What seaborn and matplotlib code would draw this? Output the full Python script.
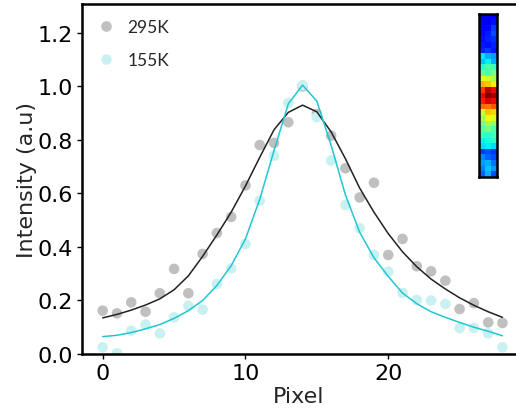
import numpy as np
import pandas as pd
import matplotlib
matplotlib.use("Agg")
import matplotlib.pyplot as plt
import seaborn as sns

pixel = list(range(29))
intensity_295K = [0.162, 0.152, 0.193, 0.158, 0.227, 0.318, 0.227, 0.374, 0.452, 0.512,
                  0.630, 0.781, 0.789, 0.866, 1.000, 0.897, 0.816, 0.694, 0.585, 0.640,
                  0.370, 0.430, 0.328, 0.309, 0.274, 0.168, 0.190, 0.118, 0.116]
intensity_155K = [0.025, 0.003, 0.087, 0.110, 0.077, 0.137, 0.180, 0.166, 0.262, 0.320,
                  0.411, 0.573, 0.741, 0.938, 1.005, 0.885, 0.723, 0.557, 0.470, 0.370,
                  0.308, 0.228, 0.202, 0.200, 0.187, 0.097, 0.097, 0.077, 0.025]
fit_295K = [0.135, 0.148, 0.164, 0.183, 0.206, 0.240, 0.292, 0.365, 0.445, 0.530,
            0.628, 0.735, 0.838, 0.903, 0.930, 0.905, 0.830, 0.730, 0.620, 0.530,
            0.450, 0.382, 0.326, 0.280, 0.243, 0.210, 0.182, 0.158, 0.137]
fit_155K = [0.065, 0.070, 0.080, 0.094, 0.110, 0.133, 0.162, 0.200, 0.256, 0.330,
            0.430, 0.578, 0.760, 0.935, 1.005, 0.945, 0.780, 0.595, 0.455, 0.360,
            0.290, 0.228, 0.188, 0.158, 0.137, 0.118, 0.100, 0.085, 0.068]
series_labels = ["295K", "155K"]
x_ticks = [0, 10, 20]
y_ticks = [0.0, 0.2, 0.4, 0.6, 0.8, 1.0, 1.2]

inset_image = [
    [0.08, 0.12, 0.12], [0.10, 0.10, 0.14], [0.12, 0.13, 0.18], [0.13, 0.15, 0.20],
    [0.14, 0.16, 0.17], [0.15, 0.14, 0.16], [0.16, 0.18, 0.15], [0.35, 0.30, 0.28],
    [0.32, 0.36, 0.30], [0.40, 0.45, 0.42], [0.48, 0.44, 0.50], [0.62, 0.60, 0.55],
    [0.72, 0.70, 0.66], [0.85, 0.95, 0.90], [0.90, 1.00, 0.97], [0.88, 0.92, 0.90],
    [0.80, 0.78, 0.82], [0.60, 0.70, 0.68], [0.55, 0.64, 0.62], [0.50, 0.55, 0.52],
    [0.46, 0.50, 0.44], [0.42, 0.40, 0.44], [0.36, 0.38, 0.40], [0.34, 0.36, 0.34],
    [0.18, 0.20, 0.18], [0.26, 0.22, 0.20], [0.28, 0.30, 0.24], [0.25, 0.32, 0.28],
    [0.22, 0.30, 0.20],
]

sns.set_theme(style="white")
plt.rcParams["font.family"] = ["DejaVu Sans"]

df = pd.DataFrame({
    "Pixel": pixel + pixel,
    "Intensity": intensity_295K + intensity_155K,
    "Temperature": [series_labels[0]] * len(pixel) + [series_labels[1]] * len(pixel),
})

fig = plt.figure(figsize=(5.16, 4.10), dpi=100)
ax = fig.add_axes([82 / 516, 55 / 410, 434 / 516, 350 / 410])

sns.scatterplot(data=df, x="Pixel", y="Intensity", hue="Temperature",
                hue_order=series_labels,
                palette={"295K": "#c0c0c0", "155K": "#c9f1f1"},
                s=58, linewidth=0, ax=ax, zorder=2)
sns.lineplot(x=pixel, y=fit_295K, color="#222222", lw=1.1, ax=ax, legend=False, zorder=3)
sns.lineplot(x=pixel, y=fit_155K, color="#1ec8d2", lw=1.1, ax=ax, legend=False, zorder=3)

ax.set_xlim(-1.45, 28.95)
ax.set_ylim(0, 1.308)
ax.set_xticks(x_ticks)
ax.set_yticks(y_ticks)
ax.set_yticklabels([f"{v:.1f}" for v in y_ticks])
ax.tick_params(direction="out", length=3.5, width=1, labelsize=16,
               left=True, bottom=True, colors="black", pad=3)
ax.set_xlabel("Pixel", fontsize=16, labelpad=2)
ax.set_ylabel("Intensity (a.u)", fontsize=16, labelpad=0)
for name, sp in ax.spines.items():
    sp.set_color("black")
    sp.set_linewidth(1.8)
ax.spines["right"].set_visible(False)

handles, labels = ax.get_legend_handles_labels()
keep = [(h, l) for h, l in zip(handles, labels) if l in series_labels]
ax.legend([h for h, _ in keep], [l for _, l in keep], loc="upper left",
          frameon=False, handlelength=1.0, handletextpad=0.7,
          labelspacing=0.98, borderaxespad=0.5, borderpad=0.4,
          bbox_to_anchor=(0.0, 1.002), prop={"family": ["Lato", "DejaVu Sans"], "size": 12.5})

ins = ax.inset_axes([0.915, 0.506, 0.041, 0.466])
sns.heatmap(np.array(inset_image), cmap="jet", vmin=0, vmax=1, cbar=False,
            xticklabels=False, yticklabels=False, ax=ins)
for sp in ins.spines.values():
    sp.set_visible(True)
    sp.set_color("black")
    sp.set_linewidth(1.8)

fig.savefig("out.png", dpi=100)
